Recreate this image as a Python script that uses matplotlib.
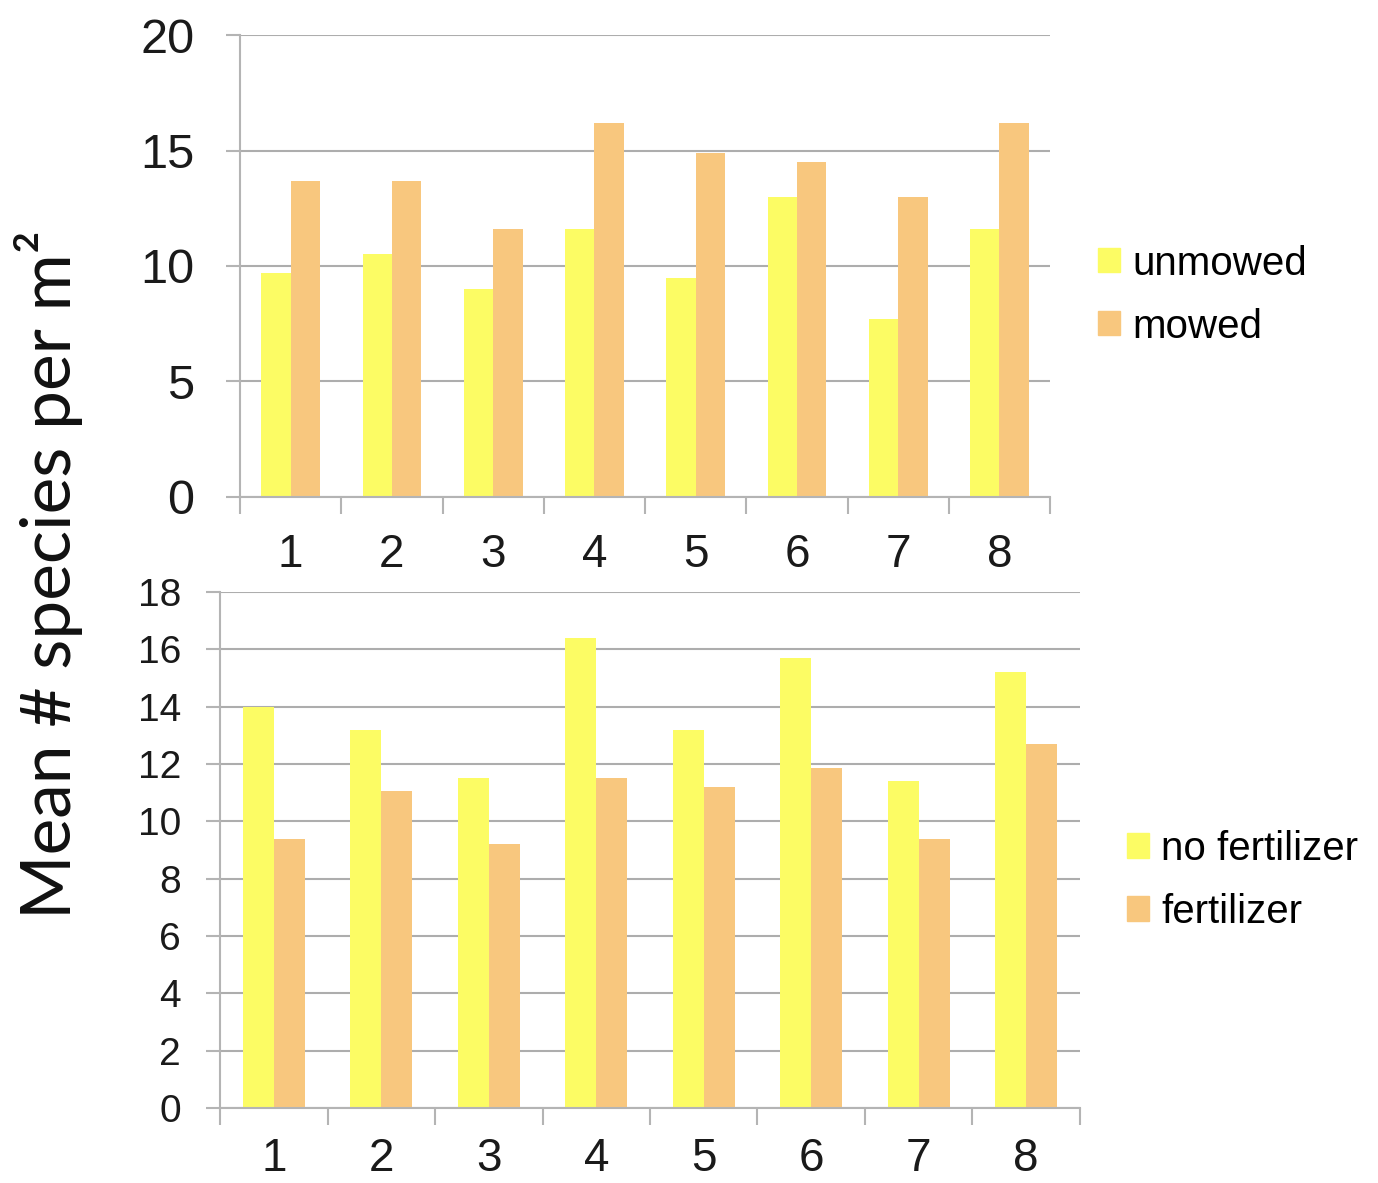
import matplotlib.pyplot as plt
from matplotlib.patches import Patch
import numpy as np

# plot numbers 1..8
plots = ["1", "2", "3", "4", "5", "6", "7", "8"]

# top panel: mowing
unmowed = [9.7, 10.5, 9.0, 11.6, 9.5, 13.0, 7.7, 11.6]
mowed = [13.7, 13.7, 11.6, 16.2, 14.9, 14.5, 13.0, 16.2]

# bottom panel: fertilizer
no_fert = [14.0, 13.2, 11.5, 16.4, 13.2, 15.7, 11.4, 15.2]
fert = [9.4, 11.05, 9.2, 11.5, 11.2, 11.85, 9.4, 12.7]

yellow = "#fcfc64"
orange = "#f8c77e"
grid_col = "#adadad"
axis_col = "#b4b4b4"

plt.rcParams["font.family"] = ["Liberation Sans", "DejaVu Sans"]

fig = plt.figure(figsize=(13.78, 11.83), dpi=100)
ax1 = fig.add_axes([0.1742, 0.5799, 0.762 - 0.1742, 0.9704 - 0.5799])
ax2 = fig.add_axes([0.1597, 0.0634, 0.7837 - 0.1597, 0.4996 - 0.0634])

x = np.arange(len(plots))
w = 0.29


def style_axis(ax, ymax, ystep, ysize, ypad, xpad):
    ax.set_xlim(-0.5, len(plots) - 0.5)
    ax.set_ylim(0, ymax)
    ax.set_yticks(np.arange(0, ymax + 0.1, ystep))
    ax.yaxis.grid(True, color=grid_col, linewidth=1.5)
    ax.set_axisbelow(True)
    for s in ["top", "right"]:
        ax.spines[s].set_visible(False)
    for s in ["left", "bottom"]:
        ax.spines[s].set_color(axis_col)
        ax.spines[s].set_linewidth(1.5)
    ax.set_xticks(x)
    ax.set_xticklabels(plots)
    ax.set_xticks(np.arange(-0.5, len(plots), 1.0), minor=True)
    ax.tick_params(axis="x", which="major", length=0, labelsize=33, pad=xpad,
                   labelcolor="#1a1a1a")
    ax.tick_params(axis="x", which="minor", length=12, width=1.5, color=axis_col)
    ax.tick_params(axis="y", length=10, width=1.5, color=axis_col, labelsize=ysize,
                   pad=ypad, labelcolor="#1a1a1a")


ax1.bar(x - w / 2, unmowed, w, color=yellow, label="unmowed")
ax1.bar(x + w / 2, mowed, w, color=orange, label="mowed")
style_axis(ax1, 20, 5, 35, 23, 26)

ax2.bar(x - w / 2, no_fert, w, color=yellow, label="no fertilizer")
ax2.bar(x + w / 2, fert, w, color=orange, label="fertilizer")
style_axis(ax2, 18, 2, 28, 18, 21)

leg_kw = dict(frameon=False, fontsize=29, handlelength=0.55, handleheight=0.55,
              handletextpad=0.3, labelspacing=0.62, borderpad=0, borderaxespad=0,
              loc="center left")
fig.legend([Patch(color=yellow), Patch(color=orange)], ["unmowed", "mowed"],
           bbox_to_anchor=(0.797, 0.7506), **leg_kw)
fig.legend([Patch(color=yellow), Patch(color=orange)], ["no fertilizer", "fertilizer"],
           bbox_to_anchor=(0.818, 0.256), **leg_kw)

fig.text(0.035, 0.514, "Mean # species per m²", rotation=90, va="center", ha="center",
         fontsize=50, family=["Lato", "DejaVu Sans"], color="#111111")

fig.savefig("out.png", dpi=100)
